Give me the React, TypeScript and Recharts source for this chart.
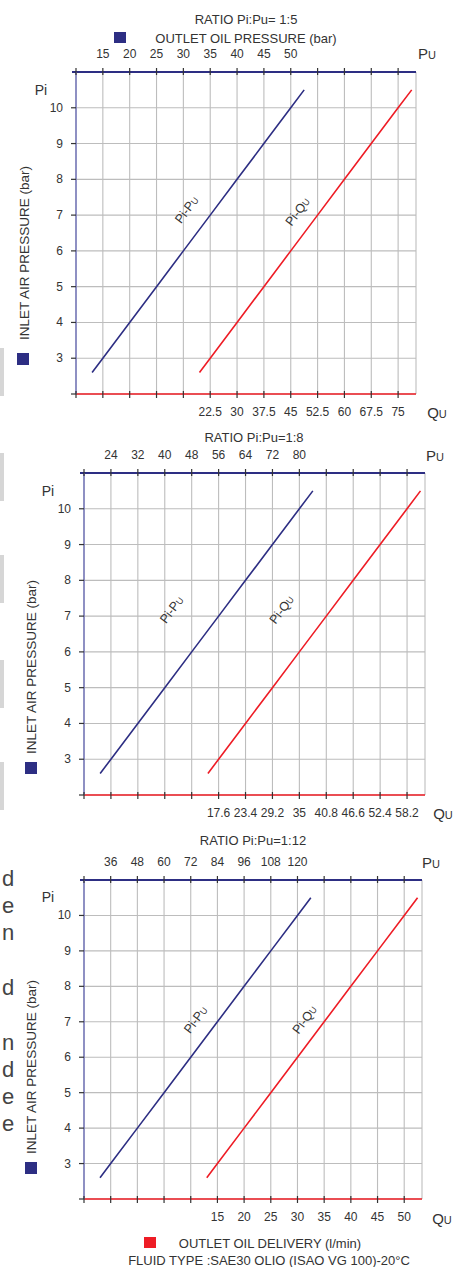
import { ComposedChart, Line, XAxis, YAxis, CartesianGrid } from 'recharts'

const NAVY = '#2d2e83'
const RED = '#ee1c25'
const LEFT_AXIS = '#7b7dbd'
const GRID = '#bdbdbd'
const TICK = '#333333'
const INK = '#333333'
const FONT = '"Liberation Sans", Arial, sans-serif'

// inlet air pressure Pi (bar) - same points for every curve
const piValues = [2.6, 3, 4, 5, 6, 7, 8, 9, 10, 10.5]
const piTicks = [2, 3, 4, 5, 6, 7, 8, 9, 10]
const piLabels = [3, 4, 5, 6, 7, 8, 9, 10]

// ratio 1:5
const pu5 = [13, 15, 20, 25, 30, 35, 40, 45, 50, 52.5]
const qu5 = [19.5, 22.5, 30, 37.5, 45, 52.5, 60, 67.5, 75, 78.8]
const puTicks5 = [10, 15, 20, 25, 30, 35, 40, 45, 50, 55, 60, 65, 70]
const puLabels5 = [15, 20, 25, 30, 35, 40, 45, 50]
const quTicks5 = [-15, -7.5, 0, 7.5, 15, 22.5, 30, 37.5, 45, 52.5, 60, 67.5, 75]
const quLabels5 = [22.5, 30, 37.5, 45, 52.5, 60, 67.5, 75]

// ratio 1:8
const pu8 = [20.8, 24, 32, 40, 48, 56, 64, 72, 80, 84]
const qu8 = [15.3, 17.6, 23.4, 29.2, 35, 40.8, 46.6, 52.4, 58.2, 61.1]
const puTicks8 = [16, 24, 32, 40, 48, 56, 64, 72, 80, 88, 96, 104, 112]
const puLabels8 = [24, 32, 40, 48, 56, 64, 72, 80]
const quTicks8 = [-11.4, -5.6, 0.2, 6, 11.8, 17.6, 23.4, 29.2, 35, 40.8, 46.6, 52.4, 58.2]
const quLabels8 = [17.6, 23.4, 29.2, 35, 40.8, 46.6, 52.4, 58.2]

// ratio 1:12
const pu12 = [31.2, 36, 48, 60, 72, 84, 96, 108, 120, 126]
const qu12 = [13, 15, 20, 25, 30, 35, 40, 45, 50, 52.5]
const puTicks12 = [24, 36, 48, 60, 72, 84, 96, 108, 120, 132, 144, 156, 168]
const puLabels12 = [36, 48, 60, 72, 84, 96, 108, 120]
const quTicks12 = [-10, -5, 0, 5, 10, 15, 20, 25, 30, 35, 40, 45, 50]
const quLabels12 = [15, 20, 25, 30, 35, 40, 45, 50]

type Panel = {
  left: number
  right: number
  plotTop: number
  plotBottom: number
  pu: number[]
  qu: number[]
  puTicks: number[]
  puLabels: number[]
  puDomain: [number, number]
  quTicks: number[]
  quLabels: number[]
  quDomain: [number, number]
}

function RatioChart({ p }: { p: Panel }) {
  const T = p.plotTop - 30
  const H = p.plotBottom + 30 - T
  const yTop = 30
  const yBot = p.plotBottom - T
  const L = p.left
  const rows = piValues.map((pi, i) => ({ pi, pu: p.pu[i], qu: p.qu[i] }))

  const TopTick = (props: any) => {
    const { x, payload, index } = props
    return (
      <g>
        {index === 0 && <line x1={x - 4} x2={x} y1={yTop} y2={yTop} stroke={NAVY} strokeWidth={2} />}
        <line x1={x} x2={x} y1={yTop - 4} y2={yTop + 3} stroke={TICK} strokeWidth={1.2} />
        {p.puLabels.includes(payload.value) && (
          <text x={x} y={yTop - 18} textAnchor="middle" dominantBaseline="central" fontSize={12} fill={INK} fontFamily={FONT}>
            {payload.value}
          </text>
        )}
      </g>
    )
  }

  const BottomTick = (props: any) => {
    const { x, payload } = props
    return (
      <g>
        <line x1={x} x2={x} y1={yBot - 3} y2={yBot + 4} stroke={TICK} strokeWidth={1.2} />
        {p.quLabels.includes(payload.value) && (
          <text x={x} y={yBot + 18} textAnchor="middle" dominantBaseline="central" fontSize={12} fill={INK} fontFamily={FONT}>
            {payload.value}
          </text>
        )}
      </g>
    )
  }

  const LeftTick = (props: any) => {
    const { y, payload } = props
    return (
      <g>
        <line x1={L - 5} x2={L} y1={y} y2={y} stroke={TICK} strokeWidth={1.2} />
        {piLabels.includes(payload.value) && (
          <text x={L - 13} y={y} textAnchor="end" dominantBaseline="central" fontSize={12} fill={INK} fontFamily={FONT}>
            {payload.value}
          </text>
        )}
      </g>
    )
  }

  return (
    <div style={{ position: 'absolute', left: 0, top: T }}>
      <ComposedChart
        width={464}
        height={H}
        data={rows}
        margin={{ top: 6, bottom: 6, left: 0, right: 464 - p.right }}
      >
        <CartesianGrid xAxisId="pu" yAxisId="pi" stroke={GRID} strokeWidth={1.1} />
        <XAxis
          xAxisId="pu"
          orientation="top"
          dataKey="pu"
          type="number"
          domain={p.puDomain}
          ticks={p.puTicks}
          interval={0}
          allowDataOverflow
          height={24}
          axisLine={{ stroke: NAVY, strokeWidth: 2 }}
          tickLine={false}
          tick={TopTick}
        />
        <XAxis
          xAxisId="qu"
          orientation="bottom"
          dataKey="qu"
          type="number"
          domain={p.quDomain}
          ticks={p.quTicks}
          interval={0}
          allowDataOverflow
          height={24}
          axisLine={{ stroke: RED, strokeWidth: 1.6 }}
          tickLine={false}
          tick={BottomTick}
        />
        <YAxis
          yAxisId="pi"
          type="number"
          domain={[2, 11]}
          ticks={piTicks}
          interval={0}
          allowDataOverflow
          width={L}
          axisLine={{ stroke: LEFT_AXIS, strokeWidth: 1.6 }}
          tickLine={false}
          tick={LeftTick}
        />
        <Line
          xAxisId="pu"
          yAxisId="pi"
          dataKey="pi"
          type="linear"
          stroke={NAVY}
          strokeWidth={1.6}
          dot={false}
          isAnimationActive={false}
        />
        <Line
          xAxisId="qu"
          yAxisId="pi"
          dataKey="pi"
          type="linear"
          stroke={RED}
          strokeWidth={1.6}
          dot={false}
          isAnimationActive={false}
        />
      </ComposedChart>
    </div>
  )
}

const panels: Panel[] = [
  {
    left: 76, right: 416, plotTop: 72, plotBottom: 394,
    pu: pu5, qu: qu5, puTicks: puTicks5, puLabels: puLabels5, puDomain: [10, 73.33],
    quTicks: quTicks5, quLabels: quLabels5, quDomain: [-15, 80],
  },
  {
    left: 84, right: 425, plotTop: 473, plotBottom: 795,
    pu: pu8, qu: qu8, puTicks: puTicks8, puLabels: puLabels8, puDomain: [16, 117.33],
    quTicks: quTicks8, quLabels: quLabels8, quDomain: [-11.4, 62.07],
  },
  {
    left: 84, right: 422, plotTop: 880, plotBottom: 1199,
    pu: pu12, qu: qu12, puTicks: puTicks12, puLabels: puLabels12, puDomain: [24, 176],
    quTicks: quTicks12, quLabels: quLabels12, quDomain: [-10, 53.33],
  },
]

const At = ({ x, y, size = 13, rotate = 0, children }: any) => (
  <div
    style={{
      position: 'absolute',
      left: x,
      top: y,
      transform: `translate(-50%, -50%) rotate(${rotate}deg)`,
      fontSize: size,
      fontFamily: FONT,
      color: INK,
      whiteSpace: 'nowrap',
      lineHeight: 1,
    }}
  >
    {children}
  </div>
)

const Box = ({ x, y, w, h, color }: any) => (
  <div style={{ position: 'absolute', left: x, top: y, width: w, height: h, background: color }} />
)

const SmallU = () => <span style={{ fontVariant: 'small-caps' }}>u</span>

const titles = ['RATIO Pi:Pu= 1:5', 'RATIO Pi:Pu=1:8', 'RATIO Pi:Pu=1:12']

export default function App() {
  return (
    <div style={{ position: 'absolute', left: 0, top: 0, width: 464, height: 1267, background: '#fff', overflow: 'hidden' }}>
      {/* scan leftovers on the left edge */}
      {[348, 453, 555, 660, 762].map((y) => (
        <Box key={y} x={0} y={y} w={4} h={48} color="#d6d6d6" />
      ))}
      {['d', 'e', 'n', 'd', 'n', 'd', 'e', 'e'].map((c, i) => (
        <div
          key={i}
          style={{
            position: 'absolute',
            left: 2,
            top: [868, 895, 922, 977, 1032, 1059, 1086, 1113][i],
            fontSize: 22,
            fontFamily: FONT,
            color: '#444',
            lineHeight: 1,
          }}
        >
          {c}
        </div>
      ))}

      {panels.map((p, i) => (
        <RatioChart key={i} p={p} />
      ))}

      {/* chart 1 texts */}
      <At x={246} y={19}>{titles[0]}</At>
      <Box x={114} y={32} w={12} h={11} color={NAVY} />
      <At x={246} y={38}>OUTLET OIL PRESSURE (bar)</At>
      <At x={427} y={53} size={15}>P<SmallU /></At>
      <At x={437} y={412} size={15}>Q<SmallU /></At>
      <At x={41} y={90} size={14}>Pi</At>
      <At x={25} y={253} rotate={-90} size={13.5}>INLET AIR PRESSURE (bar)</At>
      <Box x={17} y={353} w={12} h={12} color={NAVY} />
      <At x={187} y={210} size={12.5} rotate={-53}>Pi-P<SmallU /></At>
      <At x={298} y={212} size={12.5} rotate={-53}>Pi-Q<SmallU /></At>

      {/* chart 2 texts */}
      <At x={254} y={437}>{titles[1]}</At>
      <At x={435} y={455} size={15}>P<SmallU /></At>
      <At x={443} y={813} size={15}>Q<SmallU /></At>
      <At x={48} y={491} size={14}>Pi</At>
      <At x={32} y={667} rotate={-90} size={13.5}>INLET AIR PRESSURE (bar)</At>
      <Box x={25} y={762} w={12} h={12} color={NAVY} />
      <At x={172} y={610} size={12.5} rotate={-53}>Pi-P<SmallU /></At>
      <At x={282} y={610} size={12.5} rotate={-53}>Pi-Q<SmallU /></At>

      {/* chart 3 texts */}
      <At x={253} y={840}>{titles[2]}</At>
      <At x={431} y={862} size={15}>P<SmallU /></At>
      <At x={442} y={1218} size={15}>Q<SmallU /></At>
      <At x={48} y={897} size={14}>Pi</At>
      <At x={32} y={1067} rotate={-90} size={13.5}>INLET AIR PRESSURE (bar)</At>
      <Box x={25} y={1162} w={12} h={12} color={NAVY} />
      <At x={196} y={1020} size={12.5} rotate={-53}>Pi-P<SmallU /></At>
      <At x={305} y={1020} size={12.5} rotate={-53}>Pi-Q<SmallU /></At>

      <Box x={144} y={1237} w={12} h={11} color={RED} />
      <At x={270} y={1243}>OUTLET OIL DELIVERY (l/min)</At>
      <At x={269} y={1260}>FLUID TYPE :SAE30 OLIO (ISAO VG 100)-20°C</At>
    </div>
  )
}
